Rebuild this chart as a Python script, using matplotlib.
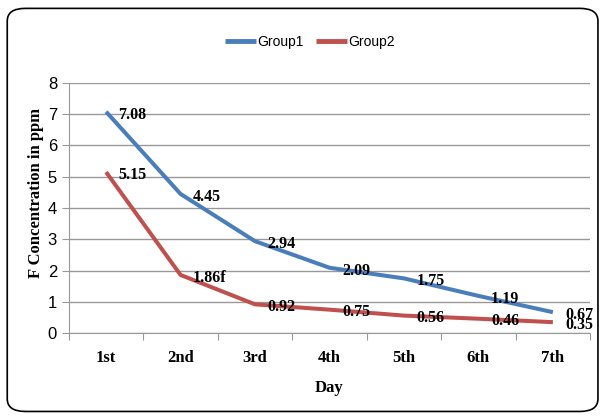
import matplotlib.pyplot as plt
from matplotlib.patches import FancyBboxPatch

days = ["1st", "2nd", "3rd", "4th", "5th", "6th", "7th"]
group1 = [7.08, 4.45, 2.94, 2.09, 1.75, 1.19, 0.67]
group2 = [5.15, 1.86, 0.92, 0.75, 0.56, 0.46, 0.35]
labels1 = ["7.08", "4.45", "2.94", "2.09", "1.75", "1.19", "0.67"]
labels2 = ["5.15", "1.86f", "0.92", "0.75", "0.56", "0.46", "0.35"]

serif = "Liberation Serif"
sans = "Liberation Sans"

fig = plt.figure(figsize=(6.04, 4.19), dpi=100)
ax = fig.add_axes([0.114, 0.205, 0.863, 0.597])

# rounded outer frame
frame = FancyBboxPatch((0.012, 0.018), 0.978, 0.962, boxstyle="round,pad=0,rounding_size=0.03",
                       transform=fig.transFigure, fill=False, edgecolor="black", linewidth=1.2)
fig.patches.append(frame)

x = range(len(days))
ax.plot(x, group1, color="#4A7EBB", linewidth=2.9, label="Group1", solid_capstyle="butt")
ax.plot(x, group2, color="#C0504D", linewidth=2.9, label="Group2", solid_capstyle="butt")

for i, (v, t) in enumerate(zip(group1, labels1)):
    ax.annotate(t, (i, v), xytext=(9, -2), textcoords="offset points", va="center", ha="left",
                fontsize=11.5, fontweight="bold", family=serif)
for i, (v, t) in enumerate(zip(group2, labels2)):
    ax.annotate(t, (i, v), xytext=(9, -2), textcoords="offset points", va="center", ha="left",
                fontsize=11.5, fontweight="bold", family=serif)

ax.set_xlim(-0.5, 6.5)
ax.set_ylim(0, 8)
ax.set_yticks(range(0, 9))
ax.set_xticks([i - 0.5 for i in range(8)])
ax.set_xticklabels([])
ax.set_xticks(list(x), minor=True)
ax.set_xticklabels(days, minor=True, fontsize=12, fontweight="bold", family=serif)
ax.tick_params(axis="x", which="minor", length=0, pad=12)
ax.tick_params(axis="x", which="major", length=5, color="#999999")
ax.tick_params(axis="y", length=5, color="#999999", labelsize=12)
for lbl in ax.get_yticklabels():
    lbl.set_family(sans)

ax.grid(axis="y", color="#999999", linewidth=1)
ax.set_axisbelow(True)
for s in ["top", "right"]:
    ax.spines[s].set_visible(False)
ax.spines["left"].set_color("#999999")
ax.spines["bottom"].set_color("#999999")

ax.set_xlabel("Day", fontsize=12, fontweight="bold", family=serif, labelpad=10)
ax.set_ylabel("F Concentration in ppm", fontsize=12, fontweight="bold", family=serif)
ax.yaxis.set_label_coords(-0.047, 0.56)

leg = fig.legend(loc="center", bbox_to_anchor=(0.513, 0.9), ncol=2, frameon=False,
                 prop={"family": sans, "size": 10}, handlelength=2.2, columnspacing=0.9,
                 handletextpad=0.1)
for h in leg.legend_handles:
    h.set_linewidth(3.5)

fig.savefig("out.png", dpi=100)
